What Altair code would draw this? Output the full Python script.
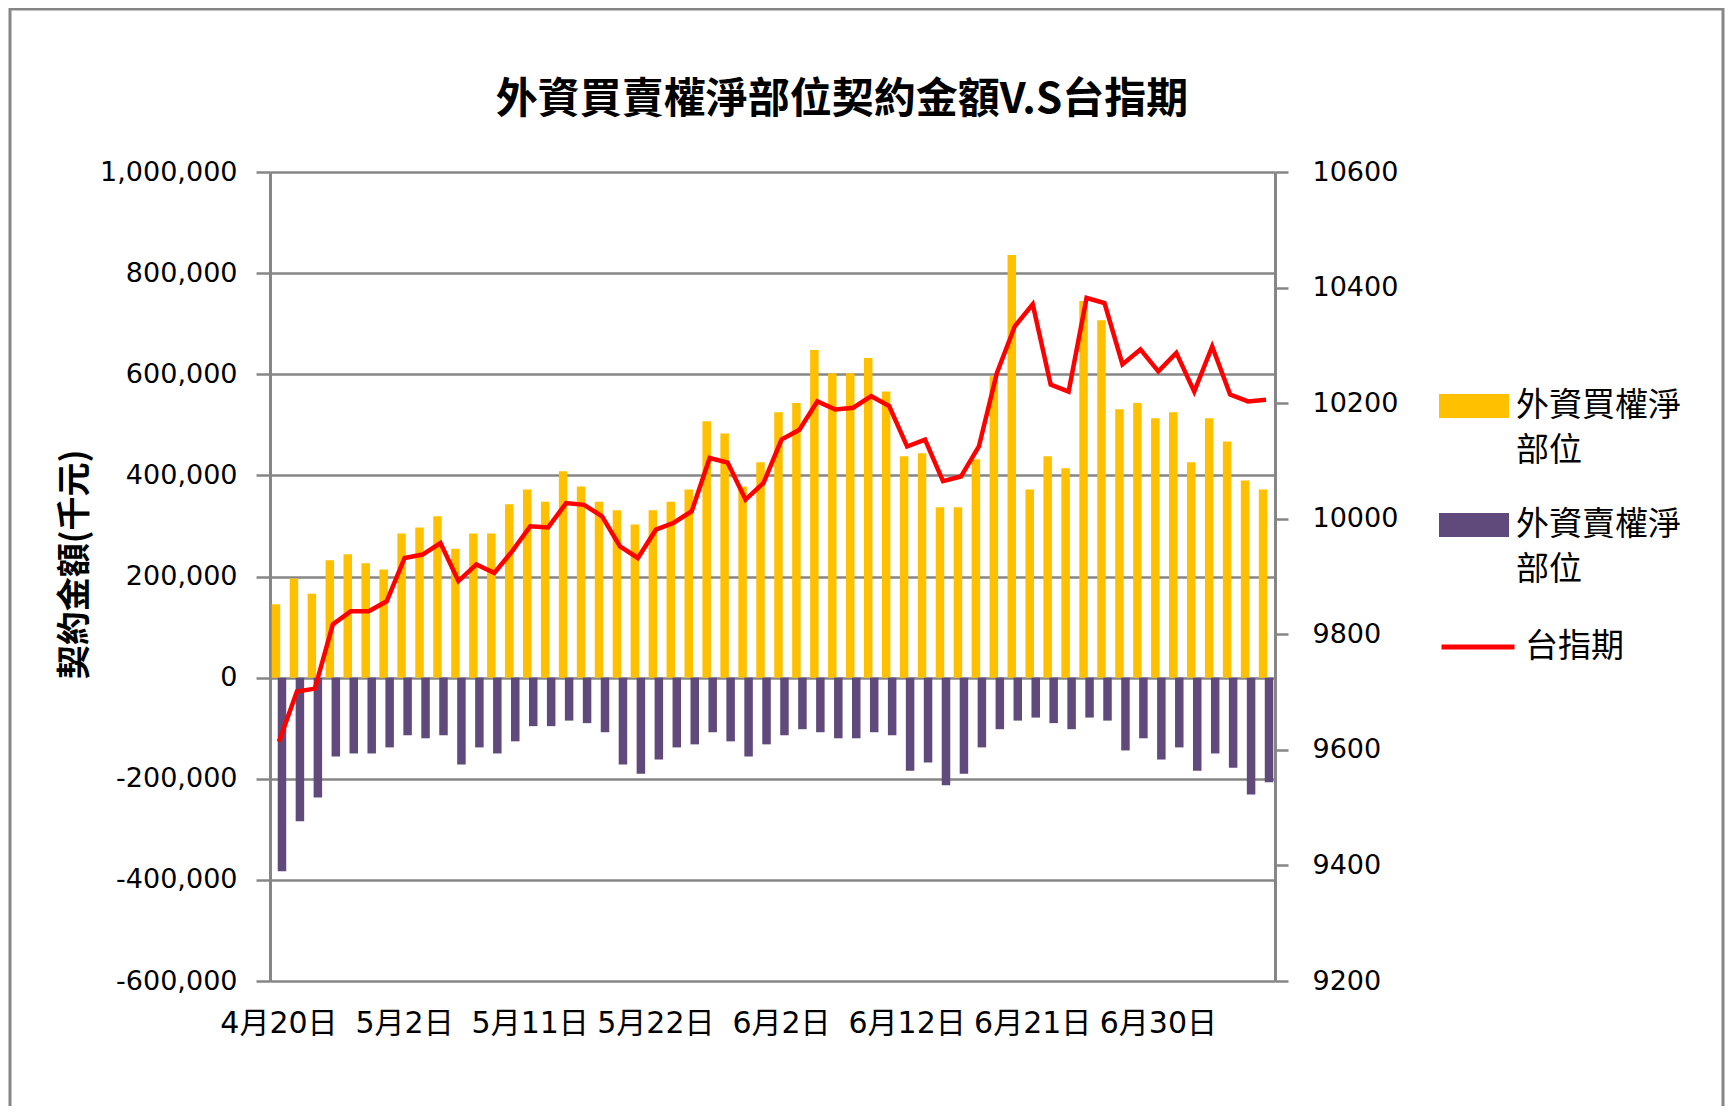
import json
import altair as alt
import pandas as pd

# ---- data ----
dates = [
    "4月20日", "4月21日", "4月24日", "4月25日", "4月26日", "4月27日", "4月28日",
    "5月2日", "5月3日", "5月4日", "5月5日", "5月8日", "5月9日", "5月10日",
    "5月11日", "5月12日", "5月15日", "5月16日", "5月17日", "5月18日", "5月19日",
    "5月22日", "5月23日", "5月24日", "5月25日", "5月26日", "5月31日", "6月1日",
    "6月2日", "6月3日", "6月5日", "6月6日", "6月7日", "6月8日", "6月9日",
    "6月12日", "6月13日", "6月14日", "6月15日", "6月16日", "6月19日", "6月20日",
    "6月21日", "6月22日", "6月23日", "6月26日", "6月27日", "6月28日", "6月29日",
    "6月30日", "7月3日", "7月4日", "7月5日", "7月6日", "7月7日", "7月10日",
]
buy = [
    145000, 196000, 166000, 232000, 244000, 226000, 214000,
    285000, 297000, 319000, 255000, 285000, 285000, 343000,
    372000, 348000, 408000, 378000, 348000, 331000, 303000,
    331000, 348000, 372000, 507000, 483000, 378000, 426000,
    525000, 543000, 648000, 602000, 602000, 632000, 566000,
    438000, 444000, 337000, 337000, 432000, 596000, 836000,
    372000, 438000, 414000, 745000, 707000, 531000, 543000,
    513000, 525000, 426000, 513000, 467000, 390000, 372000,
]
sell = [
    -383000, -284000, -237000, -156000, -150000, -150000, -138000,
    -114000, -120000, -114000, -172000, -138000, -150000, -126000,
    -96000, -96000, -85000, -90000, -108000, -172000, -190000,
    -162000, -138000, -132000, -108000, -126000, -156000, -132000,
    -114000, -102000, -108000, -120000, -120000, -108000, -114000,
    -184000, -168000, -213000, -190000, -138000, -102000, -85000,
    -79000, -90000, -102000, -79000, -85000, -144000, -120000,
    -162000, -138000, -184000, -150000, -178000, -231000, -207000,
]
taiex = [
    9614, 9701, 9706, 9817, 9840, 9840, 9857,
    9932, 9938, 9958, 9892, 9921, 9906, 9944,
    9987, 9985, 10027, 10024, 10004, 9952, 9932,
    9981, 9993, 10013, 10105, 10097, 10033, 10062,
    10137, 10154, 10203, 10189, 10192, 10212, 10195,
    10125, 10137, 10065, 10073, 10125, 10252, 10333,
    10371, 10232, 10220, 10382, 10373, 10267, 10293,
    10255, 10287, 10220, 10298, 10215, 10203, 10206,
]
series_names = ["外資買權淨部位", "外資賣權淨部位"]
line_name = "台指期"
title_text = "外資買賣權淨部位契約金額V.S台指期"
y_title = "契約金額(千元)"
left_ticks = [-600000, -400000, -200000, 0, 200000, 400000, 600000, 800000, 1000000]
right_ticks = [9200, 9400, 9600, 9800, 10000, 10200, 10400, 10600]
label_dates = dates[::7]

bars_df = pd.DataFrame({
    "date": dates * 2,
    "series": [series_names[0]] * len(dates) + [series_names[1]] * len(dates),
    "value": buy + sell,
})
line_df = pd.DataFrame({"date": dates, "taiex": taiex, "name": [line_name] * len(dates)})

GRAY = "#868686"
CJK = "Noto Sans CJK TC"
NUM = "DejaVu Sans"

x_label_expr = "indexof(" + json.dumps(label_dates, ensure_ascii=False) + ", datum.value) >= 0 ? datum.label : ''"

x_enc = alt.X(
    "date:N", sort=dates,
    scale=alt.Scale(paddingInner=0, paddingOuter=0),
    axis=alt.Axis(labelExpr=x_label_expr, labelAngle=0, domain=False, ticks=False, tickSize=0,
                  grid=False, labelPadding=27, labelFont="DejaVu Sans, Noto Sans CJK TC",
                  labelFontSize=30, labelColor="#000", labelOverlap=False,
                  labelBound=False, labelFlush=False, title=None),
)

yL_scale = alt.Scale(domain=[-600000, 1000000], nice=False)
yL_axis = alt.Axis(
    values=left_ticks, labelExpr="replace(format(datum.value, ',.0f'), '\u2212', '-')",
    grid=True, gridColor=GRAY, gridWidth=2.5,
    domainColor=GRAY, domainWidth=3, tickColor=GRAY, tickWidth=2.5, tickSize=14,
    labelPadding=19, labelFont=NUM, labelFontSize=27, labelColor="#000",
    title=y_title, titleFont=CJK, titleFontSize=34, titleFontWeight="bold", titleColor="#000",
    titleAngle=270, titleX=-195, titleY=392, titleAlign="center", titleBaseline="middle",
)

color_scale = alt.Scale(domain=series_names, range=["#FFC000", "#604A7B"])
color_legend = alt.Legend(
    orient="none", legendX=1169, legendY=199, title=None, padding=0,
    symbolType="M-1,-0.343L1,-0.343L1,0.343L-1,0.343Z", symbolSize=4900,
    symbolStrokeWidth=0, labelFont=CJK, labelFontSize=33, labelColor="#000",
    labelLimit=400, labelOffset=7, rowPadding=22,
    labelExpr="[substring(datum.label, 0, 5), substring(datum.label, 5)]",
)
line_legend = alt.Legend(
    orient="none", legendX=1169, legendY=436, title=None, padding=0,
    symbolType="stroke", symbolSize=5329, symbolStrokeWidth=5,
    labelFont=CJK, labelFontSize=33, labelColor="#000", labelLimit=400, labelOffset=8,
)

frame = alt.Chart(pd.DataFrame({"k": [0]})).mark_rect(
    fill="white", fillOpacity=0, stroke=GRAY, strokeWidth=3
).encode(x=alt.value(-260), x2=alt.value(1453), y=alt.value(-163), y2=alt.value(1000))

title_mark = alt.Chart(pd.DataFrame({"t": [title_text]})).mark_text(
    font=CJK, fontSize=42, fontWeight="bold", color="#000", align="center", baseline="middle"
).encode(text="t:N", x=alt.value(572), y=alt.value(-72))

def bar_layer(name, offset):
    return alt.Chart(bars_df).transform_filter(
        alt.datum.series == name
    ).mark_bar(width=8.5, xOffset=offset).encode(
        x=x_enc,
        y=alt.Y("value:Q", scale=yL_scale, axis=yL_axis),
        color=alt.Color("series:N", scale=color_scale, legend=color_legend),
    )

buy_bars = bar_layer(series_names[0], -3)
sell_bars = bar_layer(series_names[1], 3)

line = alt.Chart(line_df).mark_line(strokeWidth=4.5).encode(
    x=x_enc,
    y=alt.Y("taiex:Q", scale=alt.Scale(domain=[9200, 10600], nice=False, zero=False),
            axis=alt.Axis(orient="right", values=right_ticks, format="d", grid=False,
                          domainColor=GRAY, domainWidth=3, tickColor=GRAY, tickWidth=2.5,
                          tickSize=13, labelPadding=24, labelFont=NUM, labelFontSize=27,
                          labelColor="#000", title=None)),
    stroke=alt.Stroke("name:N", scale=alt.Scale(domain=[line_name], range=["#FF0000"]),
                      legend=line_legend),
)

left = alt.layer(frame, title_mark, buy_bars, sell_bars)
chart = alt.layer(left, line).resolve_scale(y="independent").properties(
    width=1005, height=809,
    autosize=alt.AutoSizeParams(type="none"),
    padding={"left": 262, "top": 164, "right": 450, "bottom": 125},
).configure_view(strokeWidth=0).configure(
    background="white", style={"guide-label": {"lineHeight": 45}}
)

chart.save("out.html", embed_options={"renderer": "svg", "actions": False})
